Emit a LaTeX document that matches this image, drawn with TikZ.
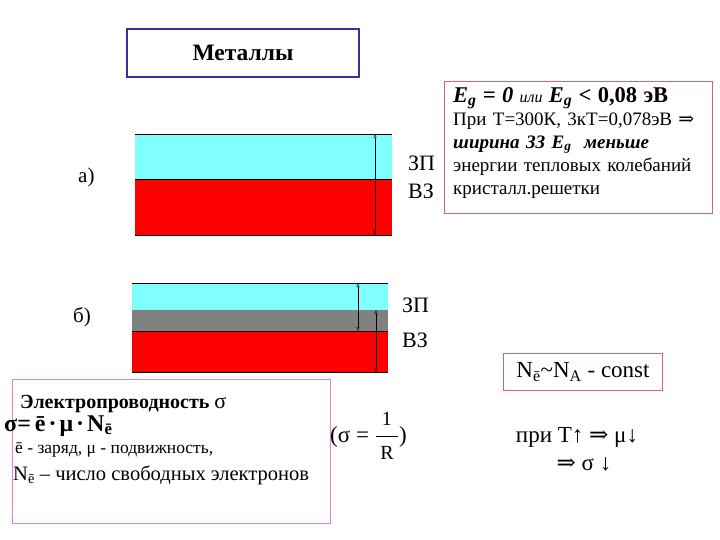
\documentclass[tikz,border=0pt]{standalone}
\usepackage{fontspec}
\setmainfont{Liberation Serif}
\newfontfamily\symfont{DejaVu Serif}
\usetikzlibrary{positioning, % relative placement
                arrows.meta, % open triangle tips
               }

\definecolor{titleblue}{RGB}{50,50,160}
\definecolor{bandcyan}{RGB}{128,255,255}
\definecolor{bandred}{RGB}{255,0,0}
\definecolor{bandgray}{RGB}{128,128,128}
\definecolor{boxred}{RGB}{220,100,100}
\definecolor{boxpink}{RGB}{220,130,220}

\tikzset{
  txt/.style={inner sep=0pt, font=\fontsize{19}{23}\selectfont},
  gap/.style={{Triangle[open,length=4pt,width=3pt]}-{Triangle[open,length=4pt,width=3pt]}, thin},
  edge/.style={line width=0.8pt},
}

\begin{document}
\begin{tikzpicture}[x=1pt,y=-1pt]
  \useasboundingbox (0,0) rectangle (720,540);

  % title
  \node[draw=titleblue, line width=2.5pt, minimum width=232pt, minimum height=48pt,
        font=\bfseries\fontsize{23.5}{27}\selectfont] (title) at (243,53) {Металлы};

  % band a)
  \fill[bandcyan] (135,134) rectangle (392,179);
  \fill[bandred] (135,179) rectangle (392,235);
  \draw[edge] (135,134) -- (392,134);
  \draw[edge] (135,179) -- (392,179);
  \draw[edge] (135,235) -- (392,235);
  \coordinate (atop) at (375,134);
  \coordinate (abot) at (375,235);
  \draw[gap] (atop) -- (abot);
  \node[txt, font=\fontsize{21}{25}\selectfont, anchor=west] (labela) at (78,177) {а)};
  \node[txt, font=\fontsize{22}{26}\selectfont, anchor=west] (cba) at (408,163) {ЗП};
  \node[txt, font=\fontsize{22}{26}\selectfont, anchor=west] (vba) at (408,191) {ВЗ};

  % band b)
  \fill[bandcyan] (132,283) rectangle (388,310);
  \fill[bandgray] (132,310) rectangle (388,331);
  \fill[bandred] (132,331) rectangle (388,372);
  \draw[edge] (132,283) -- (388,283);
  \draw[edge] (132,331) -- (388,331);
  \draw[edge] (132,372) -- (388,372);
  \coordinate (btop) at (358,283);
  \coordinate (bmid) at (358,331);
  \coordinate (vtop) at (376,310);
  \coordinate (vbot) at (376,372);
  \draw[gap] (btop) -- (bmid);
  \draw[gap] (vtop) -- (vbot);
  \node[txt, font=\fontsize{21}{25}\selectfont, anchor=west] (labelb) at (73,317) {б)};
  \node[txt, font=\fontsize{22}{26}\selectfont, anchor=west] (cbb) at (402,305) {ЗП};
  \node[txt, font=\fontsize{22}{26}\selectfont, anchor=west] (vbb) at (402,340) {ВЗ};

  % gap width note
  \node[draw=boxred, line width=1pt, minimum width=268pt, minimum height=132pt] (gapbox) at (578,148) {};
  \node[txt, anchor=north west, align=left, text width=262pt] (gapnote) at (453,87) {%
    {\bfseries\itshape\fontsize{22.5}{23}\selectfont E\textsubscript{g} = 0 {\mdseries\fontsize{16}{23}\selectfont или} E\textsubscript{g} {\upshape\char`<{} 0,08 эВ}}\\
    При Т=300К, 3кТ=0,078эВ {\symfont ⇒}\\
    {\bfseries\itshape ширина ЗЗ E\textsubscript{g}\ \ меньше}\\
    энергии тепловых колебаний\\
    кристалл.решетки};

  % conductivity
  \node[draw=boxpink, line width=1pt, minimum width=318pt, minimum height=144pt] (condbox) at (171,451) {};
  \node[txt, font=\bfseries\fontsize{20}{22}\selectfont, anchor=base west] (condtitle) at (20,408) {Электропроводность {\mdseries\fontsize{22}{22}\selectfont σ}};
  \node[txt, font=\bfseries\fontsize{24}{25}\selectfont, anchor=base west] (formula) at (4,431) {σ=\kern4ptē\kern3pt·\kern3ptμ\kern3pt·\kern3ptN\textsubscript{ē}};
  \node[txt, font=\fontsize{17.5}{22}\selectfont, anchor=base west] (charge) at (15,453) {ē - заряд, μ - подвижность,};
  \node[txt, font=\fontsize{20.5}{22}\selectfont, anchor=base west] (count) at (13,480) {N\textsubscript{ē} – число свободных электронов};
  \node[txt, font=\fontsize{23}{26}\selectfont, anchor=west] (resist) at (330,436)
    {(σ = $\displaystyle\frac{\hbox to 22pt{\hfil\fontsize{20}{20}\selectfont 1\hfil}}{\hbox to 22pt{\hfil\fontsize{20}{20}\selectfont R\hfil}}$)};

  % electrons
  \node[draw=boxred, line width=1pt, minimum width=159pt, minimum height=37pt,
        font=\fontsize{23}{26}\selectfont] (nconst) at (583,372) {N\textsubscript{ē}\char`~N\textsubscript{A} - const};
  \node[txt, font=\fontsize{23}{26}\selectfont, anchor=base] (tempup) at (577,442) {при Т↑ {\symfont ⇒} μ↓};
  \node[txt, font=\fontsize{23}{26}\selectfont, anchor=base] (sigmadown) at (584,470) {{\symfont ⇒} σ ↓};
\end{tikzpicture}
\end{document}
